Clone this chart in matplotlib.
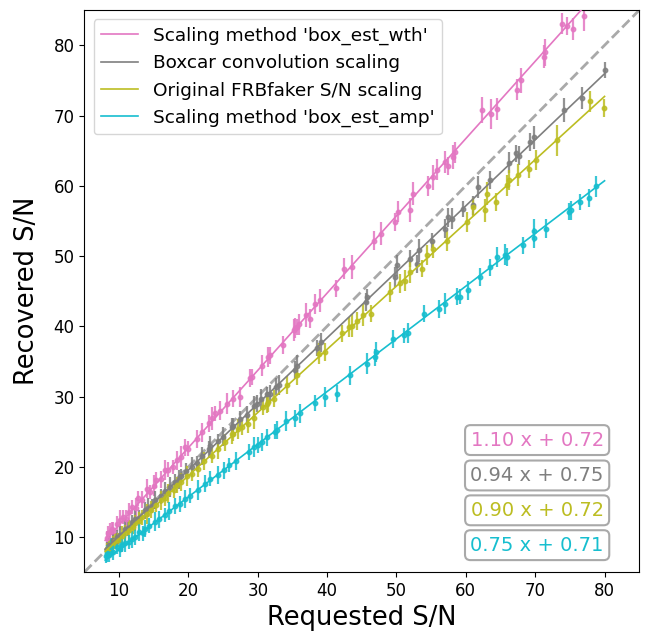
import numpy as np
import matplotlib
matplotlib.use("Agg")
import matplotlib.pyplot as plt

# requested vs recovered S/N for each scaling method
wth_x = [8.2, 8.4, 8.7, 9.0, 9.2, 9.7, 10.1, 10.6, 11.0, 11.5,
         11.8, 12.4, 12.8, 13.3, 14.0, 14.4, 15.0, 15.4, 16.0, 16.6,
         17.1, 17.8, 18.3, 18.9, 19.5, 20.0, 21.2, 22.0, 23.0, 23.4,
         23.8, 24.6, 25.6, 26.5, 27.4, 28.9, 29.1, 30.6, 31.5, 31.8,
         33.6, 35.2, 35.4, 35.6, 36.0, 37.0, 37.6, 38.3, 39.0, 41.3,
         42.5, 43.6, 46.8, 47.7, 49.8, 50.2, 51.9, 52.4, 54.6, 55.3,
         55.8, 57.0, 57.5, 58.2, 58.5, 62.4, 63.6, 64.5, 67.4, 67.9,
         71.2, 71.4, 73.8, 74.6, 75.5, 77.0]
wth_y = [9.8, 10.5, 10.7, 11.2, 10.9, 11.9, 12.4, 12.9, 12.6, 13.6,
         14.3, 14.2, 15.5, 15.3, 16.9, 16.4, 17.3, 18.1, 18.2, 19.5,
         19.6, 19.9, 20.9, 21.4, 22.8, 22.6, 24.0, 24.9, 26.2, 26.9,
         27.6, 28.0, 29.0, 29.7, 29.9, 32.6, 32.8, 34.4, 35.6, 35.9,
         37.3, 39.5, 39.8, 39.9, 40.3, 41.6, 41.1, 43.2, 43.7, 45.4,
         48.2, 48.4, 52.2, 53.2, 54.8, 56.3, 56.5, 58.9, 60.0, 61.2,
         62.3, 63.4, 62.8, 64.1, 64.8, 70.8, 70.2, 70.9, 73.7, 75.0,
         78.4, 79.0, 83.1, 82.7, 82.3, 84.1]
wth_err = [1.1, 1.0, 1.3, 0.9, 1.2, 1.1, 1.4, 1.0, 1.2, 1.3,
           1.0, 1.4, 1.1, 1.2, 1.3, 1.0, 1.5, 1.1, 1.2, 1.4,
           1.1, 1.0, 1.3, 1.5, 1.2, 1.1, 1.3, 1.4, 1.2, 1.6,
           1.1, 1.3, 1.5, 1.2, 1.4, 1.3, 1.1, 1.5, 1.4, 1.2,
           1.3, 1.6, 1.4, 1.1, 1.5, 1.7, 1.3, 1.4, 1.6, 1.2,
           1.5, 1.7, 1.4, 1.6, 1.3, 1.5, 1.7, 1.6, 1.4, 1.8,
           1.5, 1.6, 1.3, 1.7, 1.5, 1.9, 2.1, 1.6, 1.5, 1.8,
           1.7, 1.9, 1.5, 1.3, 1.6, 2.0]

box_x = [8.2, 8.5, 8.8, 9.1, 9.5, 9.7, 10.2, 10.9, 11.3, 11.8,
         12.3, 12.9, 13.7, 14.2, 14.8, 15.2, 16.0, 16.6, 17.4, 18.1,
         18.6, 19.0, 19.7, 20.5, 21.2, 21.9, 22.9, 23.1, 24.3, 25.0,
         26.3, 26.5, 27.5, 28.4, 29.4, 29.9, 30.5, 31.3, 31.8, 32.6,
         33.0, 35.4, 35.6, 38.5, 39.1, 45.6, 45.7, 49.8, 50.1, 52.0,
         52.9, 53.2, 55.1, 57.0, 57.4, 58.0, 59.6, 61.0, 61.8, 63.5,
         66.2, 67.3, 67.7, 69.2, 69.8, 74.1, 76.8, 80.0]
box_y = [8.3, 8.9, 8.8, 9.6, 9.5, 10.0, 10.3, 11.2, 11.3, 12.1,
         12.6, 12.7, 13.8, 14.2, 14.4, 15.3, 15.8, 16.6, 17.1, 17.9,
         18.2, 18.7, 19.4, 20.0, 20.5, 21.5, 22.5, 22.9, 23.6, 24.3,
         25.6, 25.8, 26.8, 27.3, 28.6, 29.0, 29.6, 30.3, 30.4, 31.4,
         31.6, 33.8, 34.4, 36.9, 37.7, 43.5, 44.2, 47.0, 48.7, 49.6,
         48.9, 50.8, 52.2, 53.9, 55.5, 55.3, 56.7, 57.2, 59.8, 60.8,
         63.3, 64.6, 64.3, 66.2, 66.9, 70.8, 72.5, 76.5]
box_err = [1.0, 1.2, 0.9, 1.3, 1.1, 1.0, 1.2, 1.4, 1.1, 1.0,
           1.3, 1.1, 1.2, 1.4, 1.0, 1.3, 1.1, 1.2, 1.4, 1.1,
           1.3, 1.0, 1.2, 1.4, 1.1, 1.3, 1.2, 1.5, 1.1, 1.3,
           1.4, 1.2, 1.1, 1.3, 1.5, 1.2, 1.4, 1.1, 1.3, 1.2,
           1.4, 1.3, 1.5, 1.2, 1.4, 1.3, 1.1, 1.4, 1.5, 1.2,
           1.3, 1.6, 1.1, 1.4, 1.3, 1.5, 1.2, 1.4, 1.6, 1.3,
           1.5, 1.2, 1.4, 1.3, 1.6, 1.7, 1.5, 1.1]

orig_x = [8.2, 8.5, 8.8, 9.1, 9.4, 9.9, 10.4, 10.9, 11.4, 12.0,
          12.3, 12.9, 13.3, 14.1, 14.6, 15.4, 16.0, 16.6, 17.1, 17.9,
          18.4, 19.0, 19.8, 20.5, 21.4, 22.3, 23.4, 24.2, 25.3, 26.3,
          26.5, 27.2, 27.8, 28.6, 29.4, 30.7, 31.3, 31.5, 32.3, 34.2,
          35.6, 38.8, 39.7, 42.1, 43.1, 43.6, 44.3, 45.2, 46.3, 49.0,
          50.5, 51.3, 52.0, 53.7, 54.4, 55.3, 57.3, 60.2, 61.0, 62.7,
          63.0, 64.3, 66.0, 66.2, 67.5, 69.1, 70.1, 73.1, 77.9, 79.9]
orig_y = [8.3, 8.4, 8.6, 8.9, 9.4, 9.6, 10.2, 10.6, 11.0, 11.4,
          12.0, 12.3, 12.8, 13.3, 13.9, 14.6, 15.2, 15.5, 16.2, 16.7,
          17.4, 17.8, 18.7, 19.0, 19.7, 20.8, 21.6, 22.5, 23.5, 24.6,
          24.7, 25.4, 25.7, 26.1, 26.9, 28.5, 29.0, 29.2, 29.7, 31.6,
          33.0, 36.1, 36.3, 39.0, 39.9, 40.1, 40.8, 41.6, 41.8, 44.9,
          46.1, 46.5, 47.7, 48.2, 50.1, 51.0, 52.2, 54.8, 57.0, 56.5,
          58.9, 57.7, 60.1, 60.8, 61.5, 62.4, 63.7, 66.5, 72.0, 71.1]
orig_err = [0.9, 1.2, 1.0, 1.3, 1.1, 1.0, 1.3, 1.1, 1.4, 1.0,
            1.2, 1.3, 1.1, 1.4, 1.2, 1.0, 1.3, 1.1, 1.4, 1.2,
            1.1, 1.3, 1.4, 1.0, 1.2, 1.3, 1.1, 1.4, 1.2, 1.3,
            1.1, 1.4, 1.2, 1.3, 1.5, 1.1, 1.3, 1.4, 1.2, 1.3,
            1.4, 1.5, 1.3, 1.2, 1.4, 1.6, 1.3, 1.5, 1.2, 1.4,
            1.3, 1.5, 1.6, 1.2, 1.4, 1.3, 1.5, 1.4, 1.3, 1.6,
            1.7, 1.3, 1.5, 1.4, 1.6, 1.3, 1.4, 2.2, 1.5, 1.3]

amp_x = [8.1, 8.2, 8.5, 8.9, 9.2, 9.7, 10.1, 10.4, 10.9, 11.4,
         11.9, 12.3, 12.9, 13.4, 13.7, 14.3, 15.2, 15.8, 16.6, 17.2,
         18.1, 18.8, 19.5, 20.3, 21.4, 22.4, 23.1, 24.3, 25.1, 25.8,
         26.9, 28.7, 29.4, 30.1, 30.6, 31.3, 32.5, 32.8, 34.1, 35.4,
         36.1, 38.3, 39.7, 41.4, 43.3, 45.8, 46.9, 47.1, 49.5, 51.1,
         51.7, 53.9, 56.2, 57.0, 58.7, 59.2, 60.3, 62.1, 63.5, 64.5,
         65.7, 66.0, 68.2, 69.9, 69.9, 71.6, 74.9, 75.2, 76.5, 77.8,
         78.7]
amp_y = [7.3, 7.7, 7.4, 8.6, 7.8, 8.6, 8.3, 8.9, 9.2, 9.3,
         9.7, 10.0, 10.7, 10.5, 11.2, 11.6, 12.2, 12.5, 13.2, 13.7,
         14.4, 14.7, 15.4, 15.9, 16.7, 17.6, 18.3, 18.8, 19.5, 20.2,
         20.8, 22.1, 22.8, 23.1, 23.5, 24.2, 25.0, 25.2, 26.5, 26.9,
         27.6, 29.1, 29.9, 30.4, 33.0, 34.7, 35.6, 36.3, 38.2, 38.7,
         39.0, 41.8, 42.5, 43.2, 44.2, 44.2, 45.1, 47.0, 48.4, 49.9,
         50.2, 49.9, 51.5, 52.6, 53.6, 53.9, 56.3, 56.5, 57.7, 58.3,
         59.9]
amp_err = [1.0, 1.2, 0.9, 1.3, 1.1, 1.0, 1.2, 1.1, 1.3, 1.0,
           1.2, 1.1, 1.3, 1.0, 1.2, 1.1, 1.3, 1.2, 1.0, 1.3,
           1.1, 1.2, 1.3, 1.1, 1.4, 1.2, 1.1, 1.3, 1.2, 1.0,
           1.3, 1.2, 1.4, 1.1, 1.3, 1.2, 1.1, 1.3, 1.4, 1.2,
           1.3, 1.1, 1.4, 1.2, 1.3, 1.5, 1.2, 1.4, 1.3, 1.1,
           1.4, 1.2, 1.3, 1.5, 1.2, 1.1, 1.4, 1.3, 1.2, 1.4,
           1.5, 1.3, 1.2, 1.4, 1.6, 1.3, 1.2, 1.4, 1.1, 1.3,
           1.5]

# linear fits (slope, intercept) for each method
labels = ["Scaling method 'box_est_wth'", "Boxcar convolution scaling",
          "Original FRBfaker S/N scaling", "Scaling method 'box_est_amp'"]
colors = ["tab:pink", "tab:gray", "tab:olive", "tab:cyan"]
slopes = [1.10, 0.94, 0.90, 0.75]
intercepts = [0.72, 0.75, 0.72, 0.71]

series = [(wth_x, wth_y, wth_err), (box_x, box_y, box_err),
          (orig_x, orig_y, orig_err), (amp_x, amp_y, amp_err)]

fig = plt.figure(figsize=(6.59, 6.35), dpi=100)
ax = fig.add_axes([0.128, 0.099, 0.842, 0.885])

ax.plot([5, 85], [5, 85], "--", color="darkgray", lw=2, zorder=1)

xfit = np.array([8, 80])
for (x, y, e), lab, c, m, b in zip(series, labels, colors, slopes, intercepts):
    ax.errorbar(x, y, yerr=e, fmt="o", ms=3.2, color=c, ecolor=c,
                elinewidth=1.6, alpha=0.85, capsize=0, zorder=2)
    ax.plot(xfit, m * xfit + b, color=c, lw=1.2, label=lab, zorder=3)

ax.set_xlim(5, 85)
ax.set_ylim(5, 85)
ax.set_xticks(range(10, 81, 10))
ax.set_yticks(range(10, 81, 10))
ax.tick_params(labelsize=12)
ax.set_xlabel("Requested S/N", fontsize=18.5)
ax.set_ylabel("Recovered S/N", fontsize=18.5, labelpad=10)

ax.legend(loc="upper left", fontsize=13.3, handlelength=2.0)

ypos = [0.235, 0.172, 0.110, 0.048]
for c, m, b, yp in zip(colors, slopes, intercepts, ypos):
    ax.text(0.816, yp, f"{m:.2f} x + {b:.2f}", color=c, fontsize=14,
            ha="center", va="center", transform=ax.transAxes,
            bbox=dict(boxstyle="round,pad=0.28", fc="white", ec="darkgray", lw=1.5))

fig.savefig("out.png", dpi=100)
